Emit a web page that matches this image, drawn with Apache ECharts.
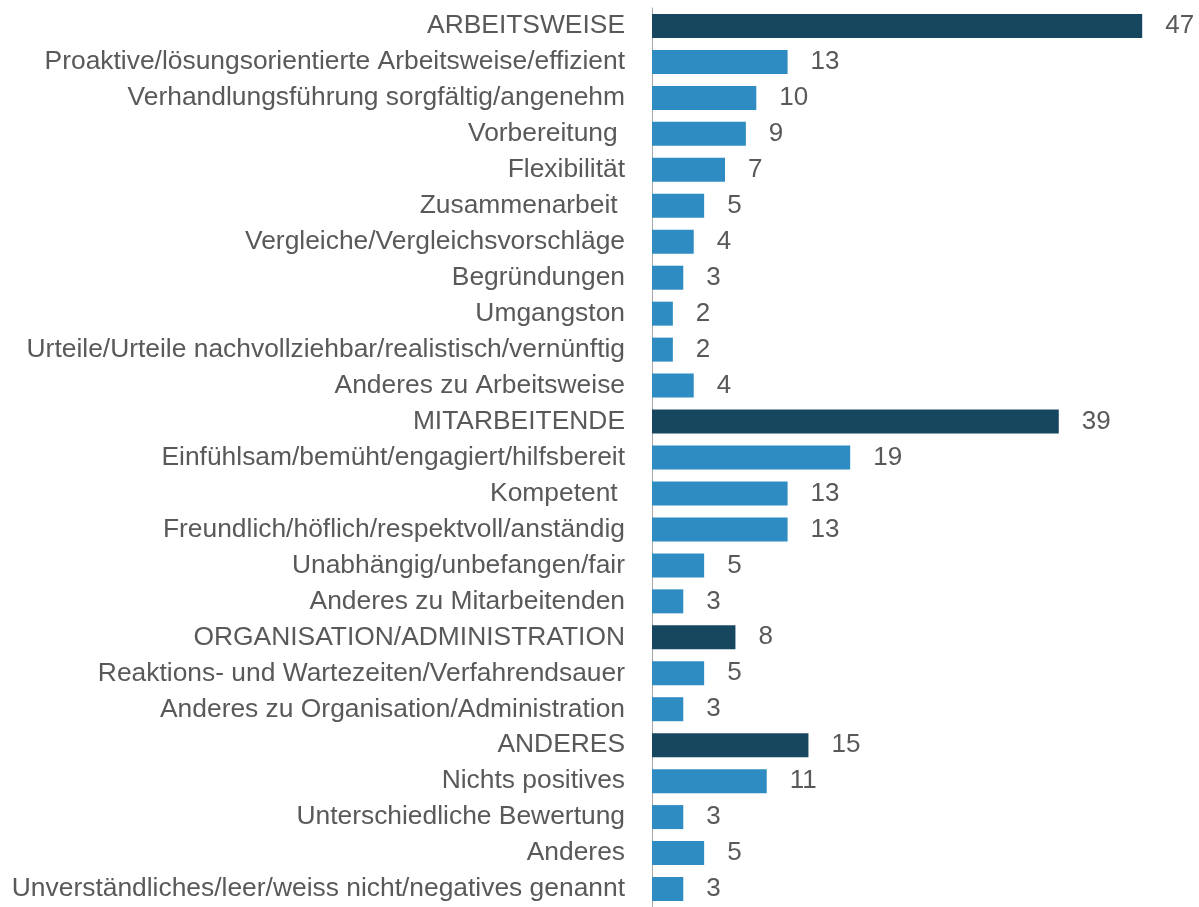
<!DOCTYPE html>
<html>
<head>
<meta charset="utf-8">
<script src="https://cdn.jsdelivr.net/npm/echarts@6/dist/echarts.min.js"></script>
<style>
  html, body { margin: 0; padding: 0; background: #fff; }
  #chart { width: 1199px; height: 907px; }
</style>
</head>
<body>
<div id="chart"></div>
<script>
const categories = [
  "ARBEITSWEISE",
  "Proaktive/lösungsorientierte Arbeitsweise/effizient",
  "Verhandlungsführung sorgfältig/angenehm",
  "Vorbereitung ",
  "Flexibilität",
  "Zusammenarbeit ",
  "Vergleiche/Vergleichsvorschläge",
  "Begründungen",
  "Umgangston",
  "Urteile/Urteile nachvollziehbar/realistisch/vernünftig",
  "Anderes zu Arbeitsweise",
  "MITARBEITENDE",
  "Einfühlsam/bemüht/engagiert/hilfsbereit",
  "Kompetent ",
  "Freundlich/höflich/respektvoll/anständig",
  "Unabhängig/unbefangen/fair",
  "Anderes zu Mitarbeitenden",
  "ORGANISATION/ADMINISTRATION",
  "Reaktions- und Wartezeiten/Verfahrendsauer",
  "Anderes zu Organisation/Administration",
  "ANDERES",
  "Nichts positives",
  "Unterschiedliche Bewertung",
  "Anderes",
  "Unverständliches/leer/weiss nicht/negatives genannt"
];
const counts = [47, 13, 10, 9, 7, 5, 4, 3, 2, 2, 4, 39, 19, 13, 13, 5, 3, 8, 5, 3, 15, 11, 3, 5, 3];
// group header rows get the dark colour
const groupHeaders = ["ARBEITSWEISE", "MITARBEITENDE", "ORGANISATION/ADMINISTRATION", "ANDERES"];

const darkColor = "#17475f";
const lightColor = "#2e8cc2";
const textColor = "#595959";
const fontFamily = "'Liberation Sans', Arial, sans-serif";

const chart = echarts.init(document.getElementById("chart"));

chart.setOption({
  animation: false,
  grid: {
    left: 652,
    top: 8,
    width: 521.5,
    height: 904,
    containLabel: false,
  },
  xAxis: {
    type: "value",
    min: 0,
    max: 50,
    show: false,
  },
  yAxis: {
    type: "category",
    data: categories,
    inverse: true,
    axisTick: { show: false },
    axisLine: {
      show: true,
      lineStyle: { color: "#a6a6a6", width: 1 },
    },
    axisLabel: {
      color: textColor,
      fontSize: 26.4,
      fontFamily: fontFamily,
      margin: 27,
    },
    splitLine: { show: false },
  },
  series: [
    {
      type: "bar",
      barWidth: 24,
      data: counts.map((v, i) => ({
        value: v,
        itemStyle: {
          color: groupHeaders.includes(categories[i]) ? darkColor : lightColor,
        },
      })),
      label: {
        show: true,
        position: "right",
        distance: 23,
        color: textColor,
        fontSize: 26,
        fontFamily: fontFamily,
      },
    },
  ],
});
</script>
</body>
</html>
